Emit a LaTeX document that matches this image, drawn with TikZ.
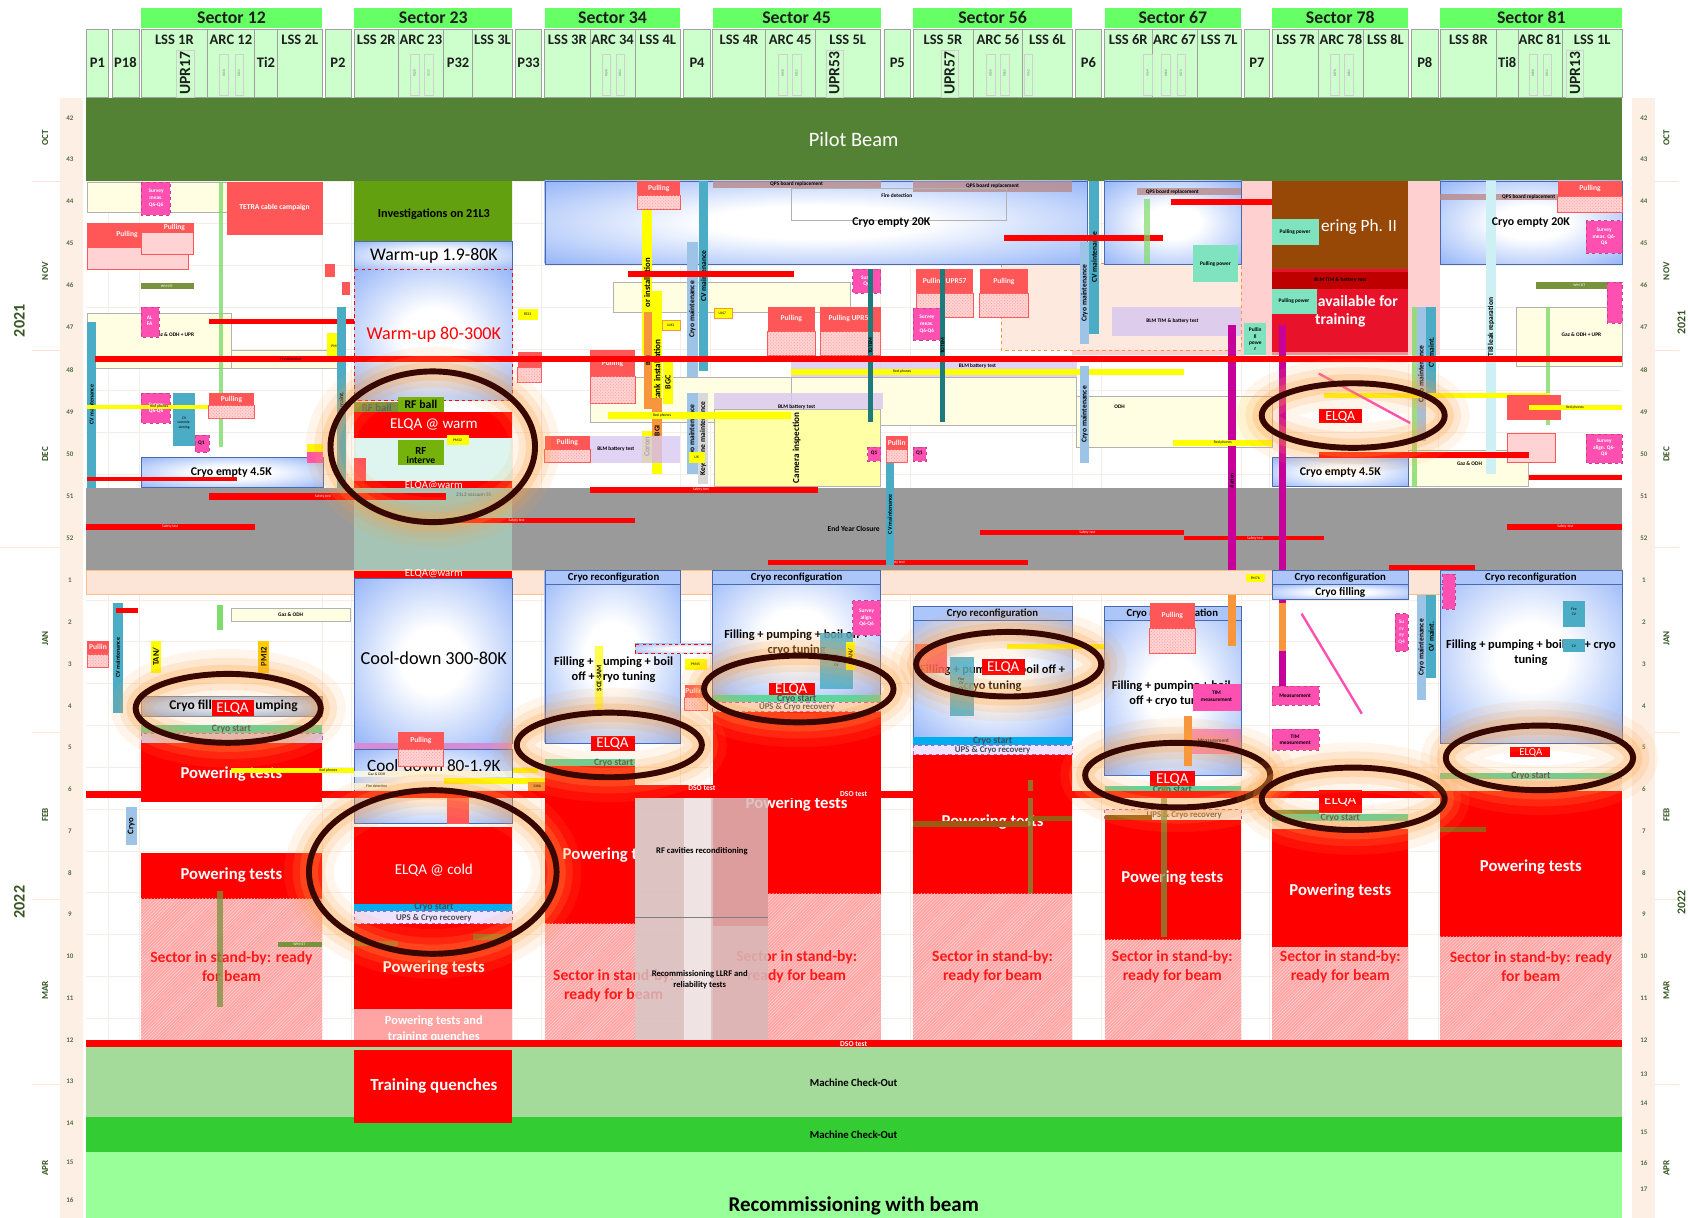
\documentclass[tikz,border=0pt]{standalone}
\usepackage{fontspec}
\setmainfont{Carlito}
\usetikzlibrary{patterns}

\definecolor{pilot}{HTML}{548235}
\definecolor{secg}{HTML}{66FF66}
\definecolor{colg}{HTML}{CCFFCC}
\definecolor{colb}{HTML}{A0A0A0}
\definecolor{hdtxt}{HTML}{1E1E1E}
\definecolor{peach}{HTML}{FDEFE4}
\definecolor{peachb}{HTML}{FCE4D6}
\definecolor{axg}{HTML}{375623}
\definecolor{gridc}{HTML}{F7EDE7}
\definecolor{cblue}{HTML}{6A97F5}
\definecolor{pull}{HTML}{FF5757}
\definecolor{pullh}{HTML}{FFD3D3}
\definecolor{sby}{HTML}{FFA3A3}
\definecolor{sbyt}{HTML}{FF1A1A}
\definecolor{lyel}{HTML}{FFFDE2}
\definecolor{yel}{HTML}{FFFF00}
\definecolor{mag}{HTML}{FF4FB0}
\definecolor{magd}{HTML}{C8009A}
\definecolor{tealc}{HTML}{4BACC6}
\definecolor{lblue}{HTML}{9DC3E6}
\definecolor{olive}{HTML}{77933C}
\definecolor{wmb}{HTML}{9A5B13}
\definecolor{invg}{HTML}{63A00F}
\definecolor{crys}{HTML}{4DDBA6}
\definecolor{ups}{HTML}{EEE2FF}
\definecolor{lav}{HTML}{D9C8F0}
\definecolor{brn}{HTML}{974806}
\definecolor{crim}{HTML}{E8132B}
\definecolor{mco}{HTML}{A4DA9A}
\definecolor{mcd}{HTML}{33CC33}
\definecolor{rwb}{HTML}{99FF99}
\definecolor{yets}{HTML}{9A9A9A}
\definecolor{yets23}{HTML}{A6C4B6}
\definecolor{ringc}{HTML}{380800}
\definecolor{glowc}{HTML}{FFA040}
\definecolor{ltteal}{HTML}{DDF5EE}
\definecolor{pgpw}{HTML}{7FE3BF}
\definecolor{lpink}{HTML}{FFD0D0}
\definecolor{qps}{HTML}{B88A8A}
\definecolor{rfg}{HTML}{D9B9B9}
\definecolor{dteal}{HTML}{1E7B7B}
\definecolor{orng}{HTML}{F7963C}
\definecolor{ltcyan}{HTML}{B7E9F0}
\definecolor{lgreen}{HTML}{7FDB6A}

\pgfdeclareradialshading{bluefade}{\pgfpoint{0bp}{0bp}}{color(0bp)=(white); color(10bp)=(white); color(46bp)=(cblue); color(80bp)=(cblue)}

\tikzset{
  t/.style={inner sep=0pt, font={\fontsize{#1}{#1}\selectfont\bfseries\baselineskip=1.22em}},
  tr/.style={inner sep=0pt, font={\fontsize{#1}{#1}\selectfont\baselineskip=1.2em}},
  wk/.style={t=6.5, text=axg!85},
  mon/.style={t=8.5, text=axg, rotate=90},
  yr/.style={t=15, text=axg, rotate=90},
  hd/.style={t=13.5, text=hdtxt},
  wt/.style={t=15.5, text=white},
  sb/.style={t=14.5, text=sbyt, align=center},
  elq/.style={text=white, inner sep=0pt, font={\fontsize{14}{14}\selectfont}},
  cst/.style={t=9, text=hdtxt!80},
  fil/.style={t=11.5, align=center},
  crc/.style={t=10},
  tiny/.style={tr=3.5},
  sm/.style={t=5},
}

% generic rectangle, blue cryo block, text, vertical labelled bar
\newcommand\Bx[5]{\path[#1] (#2,#3) rectangle (#4,#5);}
\newcommand\Bb[4]{\path[shading=bluefade,draw=cblue!70!black,line width=.4] (#1,#2) rectangle (#3,#4);}
\newcommand\Tx[4][]{\node[#1] at (#2,#3) {#4};}
\newcommand\Vb[7][t=5.5]{\path[fill=#2] (#3,#4) rectangle (#5,#6);
  \node[rotate=90,#1] at ({(#3+#5)/2},{(#4+#6)/2}) {#7};}
% header pieces
\newcommand\Sec[3]{\path[fill=secg] (#1,7) rectangle (#2,26);
  \node[t=16.5,text=hdtxt] at ({(#1+#2)/2},16.5) {#3};}
\newcommand\Col[4]{\path[fill=colg,draw=colb,line width=.6] (#1,27) rectangle (#2,90);
  \node[hd] at ({(#1+#2)/2},#4) {#3};}
\newcommand\Rel[2]{\path[draw=colb!50,line width=.3] ({#1-4},50) rectangle ({#1+4},88);
  \node[rotate=90,tr=3.2,text=gray] at (#1,68) {#2};}
\newcommand\Upr[2]{\path[draw=colb!50,line width=.3] ({#1-8},47) rectangle ({#1+8},90);
  \node[rotate=90,t=14.5,text=hdtxt] at (#1,68) {#2};}
% highlighted ELQA ring with soft orange glow
\newcommand\Ring[4]{%
  \draw[glowc,opacity=.10,line width=46] (#1,#2) ellipse [x radius=#3, y radius=#4];
  \draw[glowc,opacity=.16,line width=30] (#1,#2) ellipse [x radius=#3, y radius=#4];
  \draw[glowc,opacity=.24,line width=17] (#1,#2) ellipse [x radius=#3, y radius=#4];
  \draw[ringc,line width=5.5] (#1,#2) ellipse [x radius=#3, y radius=#4];}
% pulling box with hatched lower half
\newcommand\Pul[5][Pulling]{\path[fill=pull] (#2,#3) rectangle (#4,{(#3+#5)/2});
  \path[fill=pullh,draw=pull,line width=.8] (#2,{(#3+#5)/2}) rectangle (#4,#5);
  \path[pattern=crosshatch dots,pattern color=pull!60] (#2,{(#3+#5)/2}) rectangle (#4,#5);
  \node[t=7,text=white!92!pull] at ({(#2+#4)/2},{#3+(#5-#3)/4}) {#1};}

\begin{document}
\begin{tikzpicture}[x=1pt,y=-1pt]
\useasboundingbox (0,0) rectangle (1568,1131);
\fill[white] (0,0) rectangle (1568,1131);

%% ---------------- grid
\foreach \i in {0,...,27} \draw[gridc,line width=.5] (80,{91+38.85*\i}) -- (1507,{91+38.85*\i});
\foreach \x in {101,129,299,326,476,503,632,660,818,846,996,1023,1153,1179,1308,1336}
  \draw[gridc,line width=.6] (\x,91) -- (\x,970);

%% ---------------- axes
\Bx{fill=peach}{56}{91}{77}{1131}
\Bx{fill=peach}{1516}{91}{1537}{1131}
\foreach \y in {168,325,508,680,835,1007} {
  \draw[peachb,line width=.6] (30,\y) -- (56,\y);
  \draw[peachb,line width=.6] (1537,\y) -- (1560,\y);}
\draw[peachb,line width=.6] (0,508) -- (30,508);
\foreach \w/\y in {42/110,43/148,44/187,45/226,46/265,47/304,48/344,49/383,50/422,51/461,52/500,
  1/539,2/578,3/617,4/656,5/694,6/733,7/772,8/811,9/849,10/888,11/927,12/966,13/1004,14/1043,15/1080,16/1115}
  \node[wk] at (65,\y) {\w};
\foreach \w/\y in {42/110,43/148,44/187,45/226,46/265,47/304,48/344,49/383,50/422,51/461,52/500,
  1/539,2/578,3/617,4/656,5/694,6/733,7/772,8/811,9/849,10/888,11/927,12/966,13/998,14/1025,15/1052,16/1080,17/1105}
  \node[wk] at (1527,\y) {\w};
\foreach \m/\y in {OCT/128,NOV/252,DEC/422,JAN/593,FEB/757,MAR/920,APR/1085} {
  \node[mon] at (42,\y) {\m};
  \node[mon] at (1548,\y) {\m};}
\node[yr] (y21) at (18,298) {2021};
\node[yr] (y22) at (18,838) {2022};
\node[yr,font={\fontsize{11}{11}\selectfont\bfseries}] (y21r) at (1562,300) {2021};
\node[yr,font={\fontsize{11}{11}\selectfont\bfseries}] (y22r) at (1562,838) {2022};

%% ---------------- header
\Sec{131}{299}{Sector 12}
\Sec{329}{476}{Sector 23}
\Sec{506}{632}{Sector 34}
\Sec{662}{818}{Sector 45}
\Sec{848}{996}{Sector 56}
\Sec{1026}{1153}{Sector 67}
\Sec{1182}{1308}{Sector 78}
\Sec{1338}{1507}{Sector 81}
\Col{80}{101}{P1}{58}
\Col{104}{129}{P18}{58}
\Col{131}{193}{LSS 1R}{37}
\Col{193}{236}{ARC 12}{37}
\Col{236}{258}{Ti2}{58}
\Col{258}{299}{LSS 2L}{37}
\Col{302}{326}{P2}{58}
\Col{329}{370}{LSS 2R}{37}
\Col{370}{412}{ARC 23}{37}
\Col{412}{439}{P32}{58}
\Col{439}{476}{LSS 3L}{37}
\Col{479}{503}{P33}{58}
\Col{506}{548}{LSS 3R}{37}
\Col{548}{590}{ARC 34}{37}
\Col{590}{632}{LSS 4L}{37}
\Col{635}{660}{P4}{58}
\Col{662}{711}{LSS 4R}{37}
\Col{711}{757}{ARC 45}{37}
\Col{757}{818}{LSS 5L}{37}
\Col{821}{846}{P5}{58}
\Col{848}{904}{LSS 5R}{37}
\Col{904}{950}{ARC 56}{37}
\Col{950}{996}{LSS 6L}{37}
\Col{999}{1023}{P6}{58}
\Col{1026}{1070}{LSS 6R}{37}
\Col{1070}{1112}{ARC 67}{37}
\Col{1112}{1153}{LSS 7L}{37}
\Col{1156}{1179}{P7}{58}
\Col{1182}{1225}{LSS 7R}{37}
\Col{1225}{1266}{ARC 78}{37}
\Col{1266}{1308}{LSS 8L}{37}
\Col{1311}{1336}{P8}{58}
\Col{1338}{1390}{LSS 8R}{37}
\Col{1390}{1410}{Ti8}{58}
\Col{1410}{1451}{ARC 81}{37}
\Col{1451}{1507}{LSS 1L}{37}
\Upr{172}{UPR17}\Upr{775}{UPR53}\Upr{882}{UPR57}\Upr{1463}{UPR13}
\Rel{208}{RE18}\Rel{222}{RE22}\Rel{385}{RE28}\Rel{398}{UJ32}
\Rel{563}{RE38}\Rel{576}{RE42}\Rel{727}{RE48}\Rel{740}{RE52}
\Rel{920}{RE58}\Rel{933}{RE62}\Rel{955}{UJ62}\Rel{1066}{UJ64}
\Rel{1083}{RE68}\Rel{1097}{RE72}\Rel{1240}{RE78}\Rel{1253}{RE82}
\Rel{1424}{RE88}\Rel{1437}{RE12}

%% ---------------- Pilot beam
\Bx{fill=pilot}{80}{91}{1507}{168}
\node[text=white,inner sep=0pt,font={\fontsize{19}{19}\selectfont}] (pilot) at (793,130) {Pilot Beam};

%% ---------------- autumn 2021: background areas
\Bx{fill=lpink}{996}{245}{1182}{330}
\Bx{fill=lpink}{1153}{168}{1182}{330}
\Bx{fill=lpink}{1308}{168}{1338}{330}
\Bx{fill=peachb!80,draw=orng,dashed,line width=.6}{930}{245}{1153}{325}
\Bx{fill=lyel,draw=gray!60,line width=.4}{81}{169}{215}{197}
\Bx{fill=lyel,draw=gray!60,line width=.4}{81}{291}{215}{342}
\Bx{fill=lyel,draw=gray!60,line width=.4}{215}{325}{313}{342}
\Bx{fill=lyel,draw=gray!60,line width=.4}{570}{262}{790}{290}
\Bx{fill=lyel,draw=gray!60,line width=.4}{548}{350}{735}{392}
\Bx{fill=lyel,draw=gray!60,line width=.4}{735}{350}{1000}{395}
\Bx{fill=lyel,draw=gray!60,line width=.4}{1000}{368}{1182}{415}
\Bx{fill=lyel,draw=gray!60,line width=.4}{1408}{285}{1507}{340}
\Bx{fill=lyel,draw=gray!60,line width=.4}{1308}{418}{1420}{452}
\Tx[sm]{1469}{311}{Gaz \& ODH + UPR}
\Tx[sm]{1365}{431}{Gaz \& ODH}
\Tx[sm]{162}{311}{Gaz \& ODH + UPR}
\Tx[sm]{1040}{378}{ODH}

% cryo blocks
\Bb{506}{168}{1010}{245}
\Bb{1026}{168}{1153}{245}
\Bb{1338}{168}{1507}{245}
\Bb{131}{425}{300}{453}
\Bb{1182}{425}{1308}{452}

% QPS / fire detection strips
\Bx{fill=qps,opacity=.8}{662}{168}{818}{175}\Tx[sm]{740}{171}{QPS board replacement}
\Bx{fill=qps,opacity=.8}{848}{168}{996}{178}\Tx[sm]{922}{173}{QPS board replacement}
\Bx{fill=qps,opacity=.8}{1056}{175}{1153}{181}\Tx[sm]{1089}{178}{QPS board replacement}
\Bx{fill=qps,opacity=.8}{1338}{180}{1450}{186}\Tx[sm]{1420}{183}{QPS board replacement}
\Bx{draw=gray!60,line width=.4}{735}{175}{935}{205}\Tx[sm]{833}{182}{Fire detection}

%% Sector 12 / P1 / P18, autumn
\Bx{fill=mag,draw=mag!80!black,dashed,line width=.4}{131}{169}{158}{200}
\Tx[sm,text=white,align=center]{145}{184}{Survey\\meas.\\Q6-Q6}
\Bx{fill=pull}{211}{169}{300}{218}
\Tx[t=7,text=white]{255}{193}{TETRA cable campaign}
\Bx{fill=pull}{81}{207}{180}{230}
\Bx{fill=pullh,draw=pull,line width=.8}{81}{230}{175}{250}
\Bx{fill=pullh,draw=pull,line width=.8}{131}{216}{180}{236}
\Tx[t=7,text=white!92!pull]{118}{218}{Pulling}
\Tx[t=7,text=white!92!pull]{162}{211}{Pulling}
\Bx{fill=olive}{131}{263}{180}{268}\Tx[tiny,text=white]{155}{265.5}{WM IST}
\Bx{fill=lgreen,opacity=.8}{203}{169}{207}{415}
\Bx{fill=pull}{302}{245}{311}{257}\Bx{fill=pull}{318}{262}{325}{274}
\Bx{fill=mag,draw=mag!80!black,dashed,line width=.4}{131}{285}{148}{313}
\Tx[sm,text=white,align=center]{139}{298}{AL\\FA}
\Bx{fill=red}{194}{296}{414}{301}
\Vb[t=5.5]{tealc}{81}{299}{89}{453}{CV maintenance}
\Bx{fill=yel}{304}{309}{321}{336}\Tx[tiny]{312}{322}{PM25}
\Vb{tealc}{313}{285}{321}{465}{CV maint.}
\Bx{fill=mag,draw=mag!80!black,dashed,line width=.4}{131}{365}{158}{393}
\Tx[sm,text=white,align=center]{145}{379}{Survey\\Q6-Q6}
\Bx{fill=tealc}{161}{365}{181}{414}\Tx[tiny,align=center]{171}{393}{CV\\commis-\\sioning}
\Bx{fill=yel}{81}{376}{215}{380}\Tx[tiny]{148}{378}{Red phones}
\Bx{fill=mag,draw=mag!80!black,dashed,line width=.4}{181}{404}{194}{420}\Tx[sm]{187}{412}{Q1}
\Pul{194}{365}{236}{389}
\Bx{fill=yel}{285}{412}{300}{420}
\Bx{fill=mag}{285}{420}{300}{430}
\Bx{fill=red}{81}{443}{220}{447}
\node[t=11] (ce45a) at (215,439) {Cryo empty 4.5K};

%% Sector 23, autumn
\Bx{fill=invg}{329}{168}{476}{224}
\node[t=11.3] (inv) at (403,199) {Investigations on 21L3};
\Bb{329}{224}{476}{250}
\node[inner sep=0pt,font={\fontsize{16.5}{16.5}\selectfont}] (wu1) at (403,238) {Warm-up 1.9-80K};
\path[shading=bluefade,draw=red,dashed,line width=.6] (329,250) rectangle (476,372);
\node[text=red,inner sep=0pt,font={\fontsize{16.8}{16.8}\selectfont}] (wu2) at (403,311) {Warm-up 80-300K};
\Bx{fill=olive}{329}{373}{370}{383}\Tx[t=10,text=hdtxt!70]{350}{379}{RF ball}
\Bx{fill=invg!80!lime}{370}{369}{412}{383}\Tx[t=11]{391}{376}{RF ball}
\Bx{fill=red}{329}{383}{476}{407}
\node[text=white,inner sep=0pt,font={\fontsize{14}{14}\selectfont}] (elw) at (403,394) {ELQA @ warm};
\Bx{fill=ltteal}{329}{407}{476}{450}
\Bx{fill=yel}{415}{404}{436}{413}\Tx[tiny]{425}{409}{PM32}
\Bx{fill=invg!80!lime}{370}{409}{412}{432}\Tx[t=10]{391}{419}{RF}\Tx[t=9]{391}{427}{interve}
\Bx{fill=pull}{329}{425}{340}{450}
\Bx{fill=red}{329}{447}{476}{455}
\Tx[tr=10,text=white]{403}{451}{ELQA@warm}
\Bx{fill=yel}{481}{287}{500}{297}\Tx[tiny]{490}{292}{PZ33}
\Pul[Pullin]{481}{327}{503}{355}

%% Sectors 34 / 45 / 56, autumn
\Pul{592}{168}{632}{195}
\Vb[t=8]{yel}{596}{195}{606}{330}{or installation}
\Vb[t=6]{orng}{598}{290}{606}{380}{BGI}
\Vb[t=8.5]{yel}{606}{270}{615}{440}{ERTM tank installation}
\Vb[t=7]{orng}{606}{370}{615}{430}{BGI}
\Vb[t=7.5]{yel}{596}{400}{606}{430}{Coron}
\Vb[t=7.5]{yel}{616}{335}{625}{375}{BGC}
\Vb[t=7]{lblue}{638}{225}{648}{350}{Cryo maintenance}
\Vb[t=7]{tealc}{649}{168}{658}{345}{CV maintenance}
\Vb[t=7]{lblue}{638}{365}{648}{440}{Cryo maintenance}
\Vb[t=7]{gray!30}{648}{365}{658}{450}{Keystrone maintenance}
\Bx{fill=red}{583}{252}{738}{257}
\Bx{fill=yel,draw=orng,line width=.3}{615}{297}{632}{307}\Tx[tiny]{623}{302}{UJ43}
\Bx{fill=yel,draw=orng,line width=.3}{663}{286}{680}{296}\Tx[tiny]{671}{291}{UJ47}
\Pul{713}{285}{757}{330}
\Pul[Pulling UPR53]{762}{285}{818}{330}
\Pul[Pulling UPR57]{851}{250}{904}{295}
\Pul{910}{250}{955}{295}
\Bx{fill=mag,draw=mag!80!black,dashed,line width=.4}{792}{250}{818}{272}
\Tx[sm,text=white,align=center]{805}{261}{Surv.\\Q6}
\Bx{fill=mag,draw=mag!80!black,dashed,line width=.4}{848}{286}{875}{316}
\Tx[sm,text=white,align=center]{861}{301}{Survey\\meas.\\Q6-Q6}
\Pul{548}{325}{590}{375}
\Bx{fill=lav,opacity=.8}{735}{333}{1000}{350}\Tx[sm]{908}{340}{BLM battery test}
\Bx{fill=lav,opacity=.8}{663}{365}{820}{380}\Tx[sm]{740}{378}{BLM battery test}
\Bx{fill=lav,opacity=.8}{548}{405}{632}{430}\Tx[sm]{572}{417}{BLM battery test}
\Bx{fill=yel!35,draw=gray!60,line width=.4}{663}{380}{818}{452}
\Vb[t=8.5]{yel!35}{735}{382}{745}{450}{Camera inspection}
\Bx{fill=yel}{565}{383}{735}{389}\Tx[tiny]{615}{386}{Red phones}
\Bx{fill=yel}{735}{343}{1100}{348}\Tx[tiny]{838}{345.5}{Red phones}
\Vb[t=5]{dteal}{806}{250}{811}{392}{TOTEM}
\Vb[t=5]{dteal}{873}{250}{878}{392}{TOTEM}
\Pul{506}{405}{548}{430}
\Bx{fill=mag,draw=mag!80!black,dashed,line width=.4}{806}{415}{818}{428}\Tx[sm]{812}{421}{Q1}
\Pul[Pullin]{823}{405}{843}{430}
\Bx{fill=mag,draw=mag!80!black,dashed,line width=.4}{848}{415}{860}{428}\Tx[sm]{854}{421}{Q1}
\Bx{fill=yel}{640}{420}{655}{430}\Tx[tiny]{647}{425}{UX}
\node[t=11] (ce20a) at (828,207) {Cryo empty 20K};

%% Sectors 67 / 78 / 81, autumn
\Vb[t=7]{lblue}{1003}{225}{1012}{320}{Cryo maintenance}
\Vb[t=7]{tealc}{1012}{168}{1021}{310}{CV maintenance}
\Vb[t=7]{lblue}{1003}{340}{1012}{430}{Cryo maintenance}
\Bx{fill=red}{933}{218}{1080}{224}
\Bx{fill=red}{1088}{185}{1206}{190}
\Bx{fill=lav,opacity=.85}{1033}{285}{1153}{312}\Tx[sm]{1089}{298}{BLM TIM \& battery test}
\Bx{fill=lgreen,opacity=.7}{1063}{185}{1068}{245}
% sector 78 block
\Bx{fill=brn}{1182}{168}{1308}{250}
\node[text=white,inner sep=0pt,font={\fontsize{16}{16}\selectfont},anchor=west] (pph) at (1227,211) {ering Ph. II};
\Bx{fill=crim}{1182}{250}{1308}{330}
\Bx{fill=red!75!black}{1182}{253}{1308}{268}\Tx[sm]{1245}{260}{BLM TIM \& battery test}
\node[t=14.5,text=white,anchor=west] (avt) at (1224,280) {available for};
\node[t=14.5,text=white] (trn) at (1245,298) {training};
\Bx{fill=pgpw}{1182}{203}{1225}{228}\Tx[sm]{1203}{216}{Pulling power}
\Bx{fill=pgpw}{1182}{268}{1223}{292}\Tx[sm]{1202}{280}{Pulling power}
\Bx{fill=pgpw}{1108}{228}{1150}{262}\Tx[sm]{1129}{245}{Pulling power}
\Bx{fill=pgpw}{1156}{300}{1176}{330}\Tx[sm,align=center]{1166}{315}{Pullin\\g\\powe\\r}
\Bx{fill=peachb,opacity=.6}{1182}{327}{1308}{337}
\Vb[t=5]{magd}{1141}{302}{1148}{620}{QRL/DFC installation}
\Vb[t=5]{magd}{1188}{302}{1195}{640}{DFX installation}
\Vb[t=7]{ltcyan!70}{1380}{168}{1390}{440}{TI8 leak reparation}
\Vb[t=7]{lblue}{1316}{285}{1325}{410}{Cryo maintenance}
\Vb[t=7]{tealc}{1325}{285}{1334}{370}{CV maint.}
\Bx{fill=lgreen,opacity=.8}{1312}{285}{1316}{452}
\Bx{fill=lgreen,opacity=.8}{1436}{285}{1440}{395}
\Pul{1447}{168}{1507}{197}
\Bx{fill=mag,draw=mag!80!black,dashed,line width=.4}{1473}{205}{1507}{235}
\Tx[sm,text=white,align=center]{1490}{220}{Survey\\meas. Q6-\\Q6}
\Bx{fill=olive}{1427}{262}{1507}{268}\Tx[tiny,text=white]{1467}{265}{WM IST}
\Bx{fill=mag,draw=mag!80!black,dashed,line width=.4}{1493}{262}{1507}{300}
\Bx{fill=yel}{1328}{365}{1440}{370}
\Bx{fill=pull}{1400}{367}{1450}{390}
\Bx{fill=yel}{1420}{376}{1507}{381}\Tx[tiny]{1463}{378.5}{Red phones}
\Bx{fill=yel}{1090}{409}{1182}{414}\Tx[tiny]{1136}{411.5}{Red phones}
\Bx{fill=yel}{1230}{365}{1330}{370}
\Bx{fill=pullh,draw=pull,line width=.8}{1400}{403}{1445}{430}
\Bx{fill=mag,draw=mag!80!black,dashed,line width=.4}{1473}{403}{1507}{430}
\Tx[sm,text=white,align=center]{1490}{416}{Survey\\align. Q6-\\Q6}
\Bx{fill=red}{1420}{441}{1507}{446}
\Bx{fill=red}{1225}{420}{1420}{425}
\draw[mag,line width=2.2] (1225,347) -- (1310,393);
\Bx{fill=red}{1225}{380}{1265}{393}
\node[elq,font={\fontsize{13}{13}\selectfont}] (el78a) at (1245,387) {ELQA};
\node[t=11] (ce20b) at (1422,207) {Cryo empty 20K};
\node[t=11] (ce45b) at (1245,439) {Cryo empty 4.5K};

% fire detection line
\Bx{fill=red}{88}{331}{1507}{336}
\Tx[tiny]{270}{333.5}{Fire detection}

%% ---------------- year end closure
\Bx{fill=yets}{80}{453}{1507}{530}
\Bx{fill=yets23}{329}{453}{476}{530}
\Tx[tr=5,text=hdtxt!70]{440}{460}{21L3 vacuum SS}
\Tx[t=7]{793}{491}{End Year Closure}
\Bx{fill=red}{194}{458}{414}{464}\Tx[tiny,text=white]{300}{461}{Safety test}
\Bx{fill=red}{548}{452}{760}{458}\Tx[tiny,text=white]{651}{455}{Safety test}
\Bx{fill=red}{414}{481}{590}{486}\Tx[tiny,text=white]{480}{483.5}{Safety test}
\Bx{fill=red}{80}{487}{237}{492}\Tx[tiny,text=white]{158}{489.5}{Safety test}
\Bx{fill=red}{910}{492}{1100}{497}\Tx[tiny,text=white]{1010}{494.5}{Safety test}
\Bx{fill=red}{1100}{498}{1230}{502}\Tx[tiny,text=white]{1166}{500}{Safety test}
\Bx{fill=red}{1400}{487}{1507}{492}\Tx[tiny,text=white]{1454}{489.5}{Safety test}
\Bx{fill=red}{713}{520}{955}{525}\Tx[tiny,text=white]{833}{522.5}{Safety test}
\Bx{fill=red}{1290}{525}{1370}{530}
\Vb[t=5.5]{tealc}{823}{430}{830}{525}{CV maintenance}
\Vb[t=5]{magd}{1141}{453}{1148}{530}{}
\Vb[t=5]{magd}{1188}{453}{1195}{530}{}
\Bx{fill=peachb,draw=orng!60,line width=.4}{80}{530}{1507}{552}

%% ---------------- winter 2022
% sector 12
\Vb[t=5.5]{tealc}{105}{560}{114}{662}{CV maintenance}
\Bx{fill=red}{108}{565}{128}{569}
\Pul[Pullin]{81}{595}{101}{620}
\Bx{fill=lgreen}{202}{562}{207}{585}
\Bx{fill=lyel,draw=gray!60,line width=.4}{215}{565}{325}{577}\Tx[sm]{270}{571}{Gaz \& ODH}
\Vb[t=8]{yel}{140}{595}{150}{625}{TAN/}
\Vb[t=8]{yel!60!orange}{240}{595}{250}{625}{PMI2}
\path[shading=bluefade,draw=gray,line width=.4,opacity=.9] (131,647) rectangle (299,665);
\Bx{fill=gray,opacity=.25}{131}{647}{299}{665}
\node[t=12.5,anchor=east] (cfp1) at (197,656) {Cryo fill};
\node[t=12.5,anchor=west] (cfp2) at (237,656) {umping};
\Bx{fill=red}{197}{650}{236}{665}
\node[elq] (el12) at (216,658) {ELQA};
\Bx{fill=crys}{131}{673}{299}{681}\Tx[cst]{215}{677}{Cryo start}
\Bx{fill=lav,draw=magd!70,dashed,line width=.4}{131}{681}{299}{690}
\Bx{fill=red}{131}{690}{299}{745}
\node[wt] (pt12a) at (215,719) {Powering tests};
\Bx{fill=yel}{215}{713}{500}{718}\Tx[tiny]{305}{715.5}{Red phones}
\Vb[t=8]{lblue}{117}{750}{127}{785}{Cryo}
\Bx{fill=red}{131}{792}{299}{835}
\node[wt] (pt12b) at (215,813) {Powering tests};
\Bx{fill=sby}{131}{835}{299}{966}
\path[pattern=north east lines,pattern color=white!60!sby] (131,835) rectangle (299,966);
\node[sb] (sb12) at (215,898) {Sector in stand-by: ready\\for beam};
\Bx{fill=olive,opacity=.75}{202}{828}{207}{935}
\Bx{fill=olive}{258}{875}{299}{880}\Tx[tiny,text=white]{278}{877.5}{WM IST}

% sector 23
\Bx{fill=red}{329}{530}{476}{537}
\Tx[tr=10,text=white]{403}{533}{ELQA@warm}
\Bb{329}{537}{476}{690}
\node[inner sep=0pt,font={\fontsize{17}{17}\selectfont}] (cd1) at (403,611) {Cool-down 300-80K};
\Bx{fill=lav!70!magd}{329}{690}{476}{696}
\Bb{329}{696}{476}{765}
\node[inner sep=0pt,font={\fontsize{16}{16}\selectfont}] (cd2) at (403,711) {Cool-down 80-1.9K};
\Pul{370}{680}{412}{712}
\Bx{fill=lyel,opacity=.8}{329}{716}{476}{722}\Tx[tiny]{350}{719}{Gaz \& ODH}
\Bx{fill=lyel,opacity=.8}{329}{727}{476}{734}\Tx[tiny]{350}{730.5}{Fire detection}
\Bx{fill=yel}{412}{723}{570}{728}
\Bx{fill=orng}{490}{726}{508}{735}\Tx[tiny]{499}{730.5}{136A}
\Bx{fill=pull}{415}{735}{436}{765}
\Bx{fill=red}{329}{768}{476}{840}
\node[text=white,inner sep=0pt,font={\fontsize{14}{14}\selectfont}] (elc) at (403,808) {ELQA @ cold};
\Bx{fill=cyan}{329}{840}{476}{846}\Tx[cst]{403}{843}{Cryo start}
\Bx{fill=ups,draw=magd!70,dashed,line width=.4}{329}{846}{476}{858}
\Tx[t=8.2,text=hdtxt!80]{403}{853}{UPS \& Cryo recovery}
\Bx{fill=red}{329}{858}{476}{937}
\node[wt] (pt23) at (403,899) {Powering tests};
\Bx{fill=wmb}{329}{874}{370}{879}\Bx{fill=wmb}{439}{868}{476}{873}
\Bx{fill=sby}{329}{937}{476}{970}
\node[t=11.5,text=white,align=center] (ptq) at (403,956) {Powering tests and\\training quenches};

% sector 34
\Bb{506}{530}{632}{690}
\Bx{fill=cblue!55,draw=cblue!70!black,line width=.4}{506}{530}{632}{543}
\node[crc] (cr34) at (570,537) {Cryo reconfiguration};
\node[fil] (fp34) at (570,622) {Filling + pumping + boil\\off + cryo tuning};
\Vb[t=6.5]{yel!70!white}{553}{600}{560}{660}{SCE-SAM}
\Bx{fill=red}{549}{684}{590}{698}
\node[elq] (el34) at (569,691) {ELQA};
\Bx{fill=crys}{506}{705}{590}{712}\Tx[cst]{570}{708.5}{Cryo start}
\Bx{fill=red}{506}{712}{590}{858}
\node[wt] (pt34) at (570,794) {Powering tests};
\Bx{fill=sby}{506}{858}{590}{966}
\path[pattern=north east lines,pattern color=white!60!sby] (506,858) rectangle (590,966);
\path[shading=bluefade,draw=red,dashed,line width=.4] (590,598) rectangle (697,607);
\Tx[tiny,text=white]{640}{602.5}{RF cool-down}
\Bx{fill=yel}{636}{612}{657}{622}\Tx[tiny]{646}{617}{PM45}
\Pul{636}{636}{657}{660}

% sector 45
\Bb{662}{530}{818}{650}
\Bx{fill=cblue!55,draw=cblue!70!black,line width=.4}{662}{530}{818}{543}
\node[crc] (cr45) at (740,537) {Cryo reconfiguration};
\node[fil] (fp45) at (740,597) {Filling + pumping + boil off +\\cryo tuning};
\Bx{fill=mag,draw=mag!80!black,dashed,line width=.4}{792}{558}{818}{590}
\Tx[sm,text=white,align=center]{805}{574}{Survey\\align.\\Q6-Q6}
\Bx{fill=tealc,opacity=.85}{762}{588}{792}{640}\Tx[tiny,align=center]{777}{614}{CV\\Fire\\CV}
\Vb[t=6]{yel}{786}{596}{794}{622}{TAN/}
\Bx{fill=red}{714}{634}{757}{648}
\node[elq] (el45) at (735,641) {ELQA};
\Bx{fill=crys}{662}{646}{818}{652}\Tx[cst]{740}{649}{Cryo start}
\Bx{fill=ups!60!orange!40,draw=magd!70,dashed,line width=.4}{662}{652}{818}{661}
\Tx[t=8.2,text=hdtxt!70]{740}{657}{UPS \& Cryo recovery}
\Bx{fill=red}{662}{661}{818}{830}
\node[wt] (pt45) at (740,747) {Powering tests};
\Bx{fill=sby}{713}{830}{818}{966}
\path[pattern=north east lines,pattern color=white!60!sby] (713,830) rectangle (818,966);
\Bx{fill=red}{662}{830}{713}{860}
\Bx{fill=sby}{662}{860}{713}{966}
\node[sb] (sb45) at (740,898) {Sector in stand-by:\\ready for beam};
\node[sb] (sb34) at (570,916) {Sector in stand-by:\\ready for beam};

% RF cavities area (translucent over sectors 34/45)
\Bx{fill=rfg,opacity=.85}{590}{740}{713}{970}
\Bx{fill=white,opacity=.55}{635}{740}{660}{970}
\draw[gray,line width=.6] (590,852) -- (713,852);
\node[t=8] (rfc) at (652,791) {RF cavities reconditioning};
\node[t=8,align=center] (llrf) at (650,910) {Recommissioning LLRF and\\reliability tests};

% sector 56
\Bb{848}{563}{996}{688}
\Bx{fill=cblue!55,draw=cblue!70!black,line width=.4}{848}{563}{996}{576}
\node[crc] (cr56) at (922,570) {Cryo reconfiguration};
\node[fil] (fp56) at (922,630) {Filling + pumping + boil off +\\cryo tuning};
\Bx{fill=pull,opacity=.85}{850}{598}{880}{625}
\Bx{fill=tealc,opacity=.85}{882}{610}{905}{665}\Tx[tiny,align=center]{893}{635}{Fire\\CV\\CV}
\Bx{fill=yel}{935}{598}{1090}{603}
\Bx{fill=red}{912}{612}{952}{627}
\node[elq] (el56) at (932,620) {ELQA};
\Bx{fill=cyan}{848}{685}{996}{692}\Tx[cst]{922}{688.5}{Cryo start}
\Bx{fill=ups,draw=magd!70,dashed,line width=.4}{848}{692}{996}{701}
\Tx[t=8.2,text=hdtxt!80]{922}{697}{UPS \& Cryo recovery}
\Bx{fill=red}{848}{701}{996}{830}
\node[wt] (pt56) at (922,764) {Powering tests};
\Bx{fill=wmb}{848}{763}{955}{768}\Bx{fill=wmb}{955}{758}{996}{763}
\Bx{fill=olive,opacity=.75}{955}{725}{960}{848}
\Bx{fill=sby}{848}{830}{996}{966}
\path[pattern=north east lines,pattern color=white!60!sby] (848,830) rectangle (996,966);
\node[sb] (sb56) at (922,898) {Sector in stand-by:\\ready for beam};

% sector 67
\Bb{1026}{563}{1153}{720}
\Bx{fill=cblue!55,draw=cblue!70!black,line width=.4}{1026}{563}{1153}{576}
\node[crc] (cr67) at (1089,570) {Cryo reconfiguration};
\Pul{1068}{560}{1110}{607}
\node[fil] (fp67) at (1088,644) {Filling + pumping + boil\\off + cryo tuning};
\Bx{fill=mag}{1108}{635}{1153}{660}\Tx[sm,align=center]{1130}{647}{TIM\\measurement}
\Bx{fill=mag,opacity=.6}{1100}{677}{1153}{700}\Tx[sm]{1127}{688}{Measurement}
\Vb[t=5]{orng}{1141}{553}{1148}{600}{}
\Vb[t=5]{orng}{1100}{665}{1107}{712}{}
\Bx{fill=red}{1068}{716}{1110}{731}
\node[elq] (el67) at (1089,724) {ELQA};
\Bx{fill=crys}{1026}{730}{1153}{737}\Tx[cst]{1089}{733.5}{Cryo start}
\Bx{fill=ups!60!orange!40,draw=magd!70,dashed,line width=.4}{1026}{752}{1153}{762}
\Tx[t=8.2,text=hdtxt!70]{1100}{757}{UPS \& Cryo recovery}
\Bx{fill=wmb}{1026}{757}{1070}{762}
\Bx{fill=red}{1026}{762}{1153}{873}
\node[wt] (pt67) at (1089,816) {Powering tests};
\Bx{fill=olive,opacity=.75}{1078}{730}{1084}{870}
\Bx{fill=sby}{1026}{873}{1153}{966}
\path[pattern=north east lines,pattern color=white!60!sby] (1026,873) rectangle (1153,966);
\node[sb] (sb67) at (1089,898) {Sector in stand-by:\\ready for beam};

% sector 78
\Bx{fill=cblue!55,draw=cblue!70!black,line width=.4}{1182}{530}{1308}{543}
\node[crc] (cr78) at (1245,537) {Cryo reconfiguration};
\path[shading=bluefade,draw=cblue!70!black,line width=.4] (1182,543) rectangle (1308,557);
\node[t=10.5] (cf78) at (1245,550) {Cryo filling};
\Bx{fill=yel}{1157}{533}{1175}{541}\Tx[tiny]{1166}{537}{PM76}
\Vb[t=5]{magd}{1188}{557}{1195}{640}{}
\Bx{fill=orng}{1188}{560}{1195}{605}
\draw[mag,line width=2.2] (1209,570) -- (1265,663);
\Bx{fill=mag,draw=mag!80!black,dashed,line width=.4}{1182}{637}{1225}{655}\Tx[sm]{1203}{646}{Measurement}
\Bx{fill=mag,draw=mag!80!black,dashed,line width=.4}{1182}{677}{1225}{697}\Tx[sm,align=center]{1203}{687}{TIM\\measurement}
\Bx{fill=mag,draw=mag!80!black,dashed,line width=.4}{1296}{570}{1308}{605}
\Tx[sm,text=white!80!mag,align=center]{1302}{587}{Su\\rv\\ey\\Q4}
\Vb[t=7]{lblue}{1316}{553}{1325}{650}{Cryo maintenance}
\Vb[t=7]{tealc}{1325}{553}{1334}{630}{CV maint.}
\Bx{fill=red}{1225}{734}{1265}{755}
\node[elq] (el78b) at (1245,744) {ELQA};
\Bx{fill=crys}{1182}{756}{1308}{763}\Tx[cst]{1245}{759.5}{Cryo start}
\Bx{fill=olive}{1182}{752}{1225}{756}
\Bx{fill=peachb}{1182}{763}{1308}{770}
\Bx{fill=red}{1182}{770}{1308}{880}
\node[wt] (pt78) at (1245,828) {Powering tests};
\Bx{fill=sby}{1182}{880}{1308}{966}
\path[pattern=north east lines,pattern color=white!60!sby] (1182,880) rectangle (1308,966);
\node[sb] (sb78) at (1245,898) {Sector in stand-by:\\ready for beam};

% sector 81
\Bb{1338}{530}{1507}{690}
\Bx{fill=cblue!55,draw=cblue!70!black,line width=.4}{1338}{530}{1507}{543}
\node[crc] (cr81) at (1422,537) {Cryo reconfiguration};
\Bx{fill=mag,draw=mag!80!black,dashed,line width=.4}{1340}{533}{1352}{566}
\node[fil] (fp81) at (1422,606) {Filling + pumping + boil off + cryo\\tuning};
\Bx{fill=tealc}{1452}{558}{1472}{582}\Tx[tiny,align=center]{1462}{568}{Fire\\CV}
\Bx{fill=tealc}{1452}{594}{1472}{606}\Tx[tiny]{1462}{600}{CV}
\Bx{fill=red}{1403}{694}{1440}{703}
\node[elq,font={\fontsize{10}{10}\selectfont}] (el81) at (1422,699) {ELQA};
\Bx{fill=crys}{1338}{718}{1507}{724}\Tx[cst]{1422}{721}{Cryo start}
\Bx{fill=peachb}{1338}{724}{1507}{735}
\Bx{fill=red}{1338}{735}{1507}{870}
\node[wt] (pt81) at (1422,805) {Powering tests};
\Bx{fill=wmb}{1338}{768}{1380}{773}
\Bx{fill=sby}{1338}{870}{1507}{966}
\path[pattern=north east lines,pattern color=white!60!sby] (1338,870) rectangle (1507,966);
\node[sb] (sb81) at (1422,898) {Sector in stand-by: ready\\for beam};

% DSO test lines
\Bx{fill=red}{80}{735}{1507}{741}
\Bx{fill=red}{506}{729}{713}{735}
\Tx[t=7,text=white]{652}{732}{DSO test}
\Tx[t=7,text=white]{793}{738}{DSO test}
\Bx{fill=red}{80}{966}{1507}{973}
\Tx[t=7,text=white]{793}{969.5}{DSO test}

%% ---------------- spring 2022
\Bx{fill=mco}{80}{973}{1507}{1038}
\node[t=10] (mc1) at (793,1006) {Machine Check-Out};
\Bx{fill=mcd}{80}{1038}{1507}{1070}
\node[t=10] (mc2) at (793,1054) {Machine Check-Out};
\Bx{fill=rwb}{80}{1070}{1507}{1131}
\node[t=19.5] (rwb) at (793,1120) {Recommissioning with beam};
\Bx{fill=red}{329}{975}{476}{1043}
\node[t=15.7,text=white] (tq) at (403,1009) {Training quenches};

%% ---------------- ELQA rings
\Ring{402}{415}{95}{70}
\Ring{402}{810}{115}{76}
\Ring{212}{658}{86}{32}
\Ring{566}{692}{86}{30}
\Ring{742}{640}{88}{31}
\Ring{937}{617}{86}{30}
\Ring{1094}{720}{86}{30}
\Ring{1257}{742}{85}{29}
\Ring{1430}{704}{87}{30}
\Ring{1257}{386}{85}{30}
\end{tikzpicture}
\end{document}
